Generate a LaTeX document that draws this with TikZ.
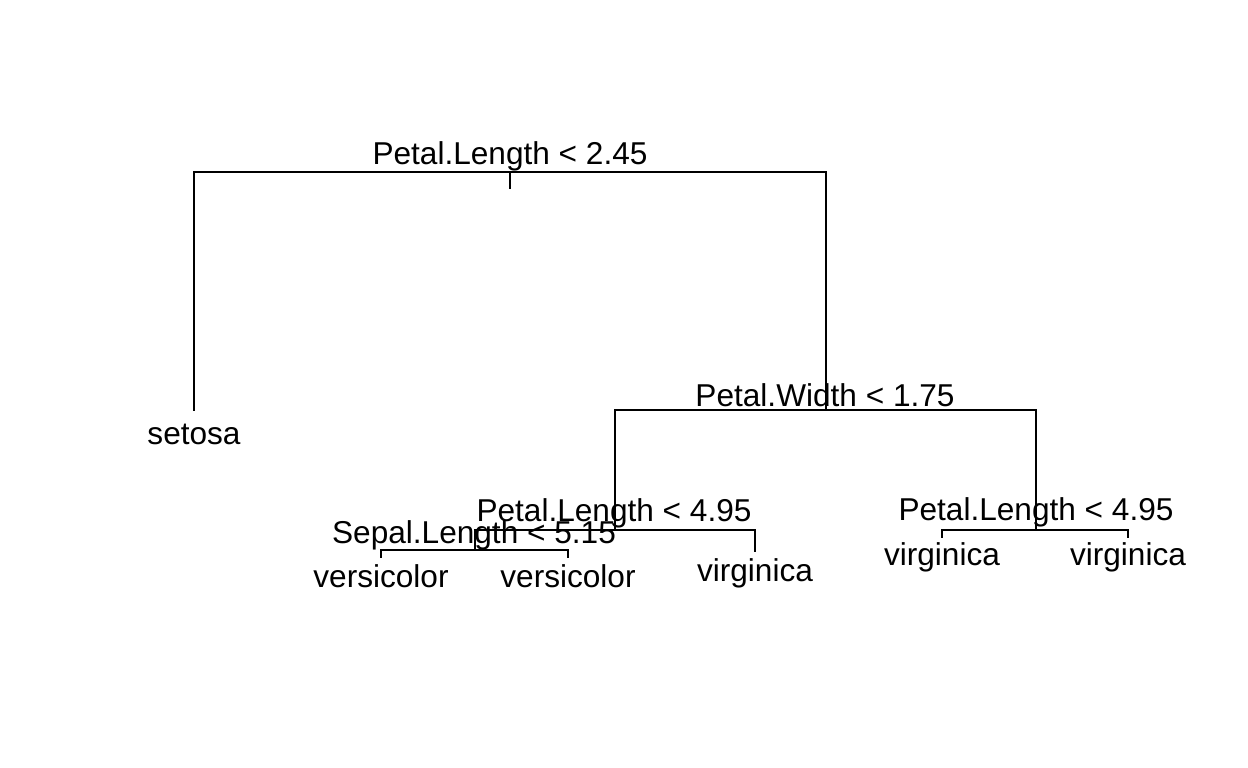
\documentclass[tikz,border=0pt]{standalone}
\usepackage{fontspec}
\setmainfont{Liberation Sans}
\begin{document}
\begin{tikzpicture}[x=1pt,y=-1pt,
  edge/.style={line width=2pt,line cap=rect},
  lbl/.style={anchor=base,inner sep=0pt,font=\fontsize{31.6pt}{36pt}\selectfont}]
\useasboundingbox[fill=white] (0,0) rectangle (1248,768);
% tree points
\coordinate (r) at (510,172);
\coordinate (rs) at (510,188);
\coordinate (rl) at (194,172);
\coordinate (rr) at (826,172);
\coordinate (setosa) at (194,410);
\coordinate (n2) at (826,410);
\coordinate (n2l) at (615,410);
\coordinate (n2r) at (1036,410);
\coordinate (n3) at (615,530);
\coordinate (n3l) at (475,530);
\coordinate (n3r) at (755,530);
\coordinate (n3re) at (755,551);
\coordinate (n4) at (475,550);
\coordinate (n4l) at (381,550);
\coordinate (n4r) at (568,550);
\coordinate (n4le) at (381,557);
\coordinate (n4re) at (568,557);
\coordinate (n5) at (1036,530);
\coordinate (n5l) at (942,530);
\coordinate (n5r) at (1128,530);
\coordinate (n5le) at (942,537);
\coordinate (n5re) at (1128,537);
% edges
\draw[edge] (r) -- (rs);
\draw[edge] (setosa) -- (rl) -- (rr) -- (n2);
\draw[edge] (n3) -- (n2l) -- (n2r) -- (n5);
\draw[edge] (n4) -- (n3l) -- (n3r) -- (n3re);
\draw[edge] (n4le) -- (n4l) -- (n4r) -- (n4re);
\draw[edge] (n5le) -- (n5l) -- (n5r) -- (n5re);
% split labels
\node[lbl] (t1) at (510,164) {Petal.Length < 2.45};
\node[lbl] (t2) at (825,406) {Petal.Width < 1.75};
\node[lbl] (t3) at (614,521) {Petal.Length < 4.95};
\node[lbl] (t4) at (474,543) {Sepal.Length < 5.15};
\node[lbl] (t5) at (1036,520) {Petal.Length < 4.95};
% leaf labels
\node[lbl] (l1) at (194,444) {setosa};
\node[lbl] (l2) at (381,587) {versicolor};
\node[lbl] (l3) at (568,587) {versicolor};
\node[lbl] (l4) at (755,581) {virginica};
\node[lbl] (l5) at (942,565) {virginica};
\node[lbl] (l6) at (1128,565) {virginica};
\end{tikzpicture}
\end{document}
